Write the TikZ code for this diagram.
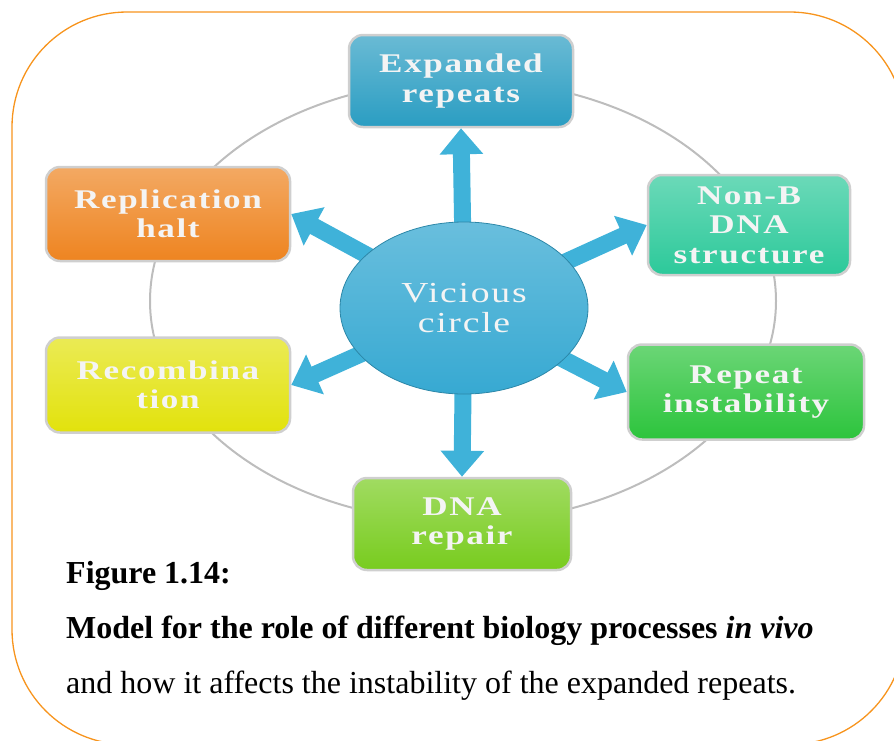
\documentclass[tikz,border=0pt]{standalone}
\usepackage{fontspec}
\setmainfont{Liberation Serif}
\newfontfamily\boxfont[FakeStretch=1.3,LetterSpace=6]{Liberation Serif}
\usetikzlibrary{arrows.meta,shapes.geometric}
\definecolor{framec}{HTML}{F7941D}
\definecolor{ringc}{HTML}{BDBDBD}
\definecolor{boxborder}{HTML}{CFCFCF}
\definecolor{cExp}{HTML}{2A9DC2}
\definecolor{cNonB}{HTML}{2CC99A}
\definecolor{cRep}{HTML}{2CC43C}
\definecolor{cDNA}{HTML}{78CC1E}
\definecolor{cRec}{HTML}{E2E20C}
\definecolor{cRepl}{HTML}{EE8420}
\definecolor{cCirc}{HTML}{37A9D2}
\definecolor{cArrow}{HTML}{3FB2D9}
\definecolor{boxtext}{HTML}{F4F4F4}
\begin{document}
\begin{tikzpicture}[x=1pt,y=-1pt,
  procbox/.style={rectangle, rounded corners=14pt, draw=boxborder, line width=2.5pt,
    text=boxtext, font=\boxfont\bfseries\fontsize{27}{29.5}\selectfont, align=center,
    inner sep=0pt, top color=#1!70!white, bottom color=#1},
  bigarrow/.style={draw=cArrow, line width=17pt, -{Triangle[width=42pt,length=26pt]}},
  captext/.style={anchor=base west, inner sep=0pt, font=\fontsize{32}{34}\selectfont}]
\useasboundingbox (0,0) rectangle (894,740);
\clip (0,0) rectangle (894,740);
\draw[framec, line width=1.3pt, rounded corners=115pt] (12,12) rectangle (905,744.5);
\draw[ringc, line width=2pt] (463,301) ellipse [x radius=313pt, y radius=221pt];
\node[procbox=cExp, minimum width=224pt, minimum height=92pt] (er) at (461,81) {Expanded\\repeats};
\node[procbox=cNonB, minimum width=202pt, minimum height=100pt] (nb) at (749,225) {Non-B\\DNA\\structure};
\node[procbox=cRep, minimum width=236pt, minimum height=95pt] (ri) at (746,392) {Repeat\\instability};
\node[procbox=cDNA, minimum width=218pt, minimum height=92pt] (dr) at (462,524) {DNA\\repair};
\node[procbox=cRec, minimum width=244pt, minimum height=95pt] (rc) at (168,385) {Recombina\\tion};
\node[procbox=cRepl, minimum width=244pt, minimum height=94pt] (rh) at (168,214) {Replication\\halt};
\node[ellipse, minimum width=248pt, minimum height=172pt, inner sep=0pt] (c) at (464,308) {};
\draw[bigarrow] (c.center) -- (er.south);
\draw[bigarrow] (c.center) -- (dr.north);
\draw[bigarrow] (c.center) -- (nb.west);
\draw[bigarrow] (c.center) -- (ri.west);
\draw[bigarrow] (c.center) -- (rc.east);
\draw[bigarrow] (c.center) -- (rh.east);
\node[ellipse, minimum width=248pt, minimum height=172pt, inner sep=0pt,
  draw=cCirc!80!black, line width=0.8pt, top color=cCirc!75!white, bottom color=cCirc,
  text=boxtext, align=center, font=\boxfont\fontsize{29}{30}\selectfont] at (c.center) {Vicious\\circle};
\node[captext, font=\bfseries\fontsize{32}{34}\selectfont] (cap1) at (66,583) {Figure 1.14:};
\node[captext, font=\bfseries\fontsize{32}{34}\selectfont] (cap2) at (66,638) {Model for the role of different biology processes \textit{in vivo}};
\node[captext] (cap3) at (66,693) {and how it affects the instability of the expanded repeats.};
\end{tikzpicture}
\end{document}
